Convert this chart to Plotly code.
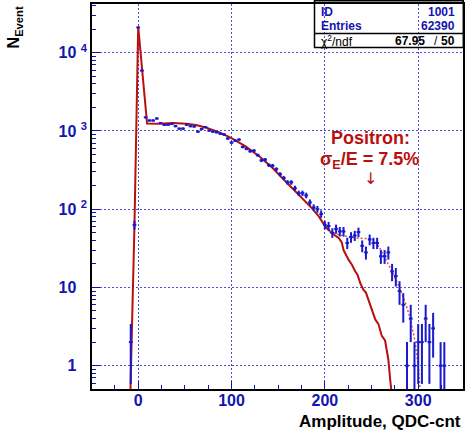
import numpy as np
import plotly.graph_objects as go

# ---------------- data ----------------
bin_width = 4
bin_index = [-2, -1, 0, 1, 2, 3, 4, 5, 6, 7, 8, 9, 10, 11, 12, 13, 14, 15, 16, 17, 18, 19,
             20, 21, 22, 23, 24, 25, 26, 27, 28, 29, 30, 31, 32, 33, 34, 35, 36, 37, 38, 39,
             40, 41, 42, 43, 44, 45, 46, 47, 48, 49, 50, 51, 52, 53, 54, 55, 56, 57, 58, 59,
             60, 61, 62, 63, 64, 65, 66, 67, 68, 69, 70, 71, 72, 73, 74, 75, 76, 77, 78, 79,
             81, 82]
counts = [2, 63, 21000, 5900, 1490, 1360, 1360, 1440, 1260, 1190, 1200, 1230, 1150, 1070, 1070,
          1200, 1150, 1140, 980, 1060, 1120, 1010, 980, 960, 920, 900, 800, 710, 750, 775,
          624, 590, 550, 560, 490, 420, 430, 365, 360, 325, 280, 250, 220, 220, 185, 160, 160,
          150, 122, 105, 100, 87, 63, 61, 50, 56, 52, 52, 37, 44, 46, 51, 34, 28, 41, 37, 37,
          25, 25, 28, 16, 14, 9, 6, 1, 4, 1, 2, 2, 4, 2, 3, 1, 1]

fit_x = [-8.5, -4, 0, 4, 9.5, 23, 37, 51.5, 62, 73, 87, 100, 115, 130, 144, 158, 172, 186,
         193.5, 200.5, 207.7, 214.8, 218, 220, 225.5, 229, 232.6, 235, 238, 241.4, 244,
         246.7, 250.3, 254, 257.4, 261, 264.5, 266.5, 268, 270, 272]
fit_y = [0.4, 63, 21500, 6000, 1240, 1236, 1262, 1236, 1188, 1098, 957, 811, 634, 472, 336,
         226, 153, 103, 81, 60, 49, 43, 38, 30, 22.5, 19.5, 16, 14.5, 11.3, 9.3, 8.6,
         6.9, 5.4, 3.9, 3.4, 2.4, 2.1, 1.6, 1.2, 0.66, 0.4]

tail_x = [205, 215, 227, 237, 247, 254, 260, 266, 272, 279, 286, 291, 296.5, 300, 302]
tail_y = [52, 47, 44, 42.5, 42, 40, 30, 22, 16, 10.5, 6.5, 4.2, 2.1, 1.0, 0.5]

ytick_vals = [1, 10, 100, 1000, 10000]
ytick_text = ["1 <sup><span style='color:rgba(0,0,0,0)'>0</span></sup>",
              "10 <sup><span style='color:rgba(0,0,0,0)'>0</span></sup>",
              "10 <sup>2</sup>", "10 <sup>3</sup>", "10 <sup>4</sup>"]
xtick_vals = [0, 100, 200, 300]

stats_id = "1001"
stats_entries = "62390"
stats_chi2 = "67.95"
stats_ndf = "50"

# ---------------- figure ----------------
BLUE = "rgb(20,20,175)"
PBLUE = "rgb(25,25,205)"
RED = "rgb(185,15,15)"
GRID = "rgba(60,60,210,0.9)"
FONT = "Liberation Sans, Arial, sans-serif"

x = np.array(bin_index) * bin_width
n = np.array(counts, dtype=float)
err = np.sqrt(n)
lower = n - np.maximum(n - err, 0.3)

fig = go.Figure()
fig.add_trace(go.Scatter(
    x=fit_x, y=fit_y, mode="lines",
    line=dict(color=RED, width=2), hoverinfo="skip", showlegend=False))
fig.add_trace(go.Scatter(
    x=tail_x, y=tail_y, mode="lines",
    line=dict(color="rgb(220,80,80)", width=1.5, dash="2px,2px"), showlegend=False))
fig.add_trace(go.Scatter(
    x=x, y=n, mode="markers",
    marker=dict(size=2, color=PBLUE),
    error_y=dict(type="data", symmetric=False, array=err, arrayminus=lower,
                 color=PBLUE, thickness=2, width=0),
    error_x=dict(type="constant", value=bin_width / 2, color=PBLUE, thickness=2, width=0),
    showlegend=False))

L, R, T, B = 92, 2, 4, 46
W, H = 467, 435
pw, ph = W - L - R, H - T - B


def px(xp):
    return (xp - L) / pw


def py(yp):
    return (H - B - yp) / ph


fig.update_layout(
    width=W, height=H,
    margin=dict(l=L, r=R, t=T, b=B),
    paper_bgcolor="white", plot_bgcolor="white",
    font=dict(family=FONT),
    xaxis=dict(
        range=[-49.5, 348], tickvals=xtick_vals,
        ticks="inside", ticklen=8, tickcolor=BLUE, tickwidth=1,
        tickfont=dict(family=FONT, size=16, color=BLUE, weight="bold"),
        ticklabelstandoff=-4,
        showgrid=True, gridcolor=GRID, griddash="2px,2px", gridwidth=1,
        showline=True, linecolor="black", linewidth=1.5, mirror=True,
        zeroline=False,
        minor=dict(dtick=25, tick0=0, ticks="inside", ticklen=4, tickcolor=BLUE, showgrid=False),
    ),
    yaxis=dict(
        type="log", range=[-0.298, 4.622],
        tickvals=ytick_vals, ticktext=ytick_text,
        ticks="inside", ticklen=8, tickcolor=BLUE, tickwidth=1,
        tickfont=dict(family=FONT, size=16, color=BLUE, weight="bold"),
        showgrid=True, gridcolor=GRID, griddash="2px,2px", gridwidth=1,
        showline=True, linecolor="black", linewidth=1.5, mirror=True,
        zeroline=False,
        minor=dict(dtick="D1", ticks="inside", ticklen=4, tickcolor=BLUE, showgrid=False),
    ),
)

# axis titles
fig.add_annotation(xref="paper", yref="paper", x=px(14), y=py(4), xanchor="center", yanchor="top",
                   text="<b>N<sub>Event</sub></b>", textangle=-90, showarrow=False,
                   font=dict(family=FONT, size=16, color="black"))
fig.add_annotation(xref="paper", yref="paper", x=px(465), y=py(422), xanchor="right", yanchor="middle",
                   text="<b>Amplitude, QDC-cnt</b>", showarrow=False,
                   font=dict(family=FONT, size=17, color="black"))

# positron label
fig.add_annotation(xref="paper", yref="paper", x=px(372), y=py(138), xanchor="center", yanchor="middle",
                   text="<b>Positron:</b>", showarrow=False, font=dict(family=FONT, size=18, color=RED))
fig.add_annotation(xref="paper", yref="paper", x=px(371), y=py(160), xanchor="center", yanchor="middle",
                   text="<b>σ<sub>E</sub>/E = 7.5%</b>", showarrow=False, font=dict(family=FONT, size=18, color=RED))
fig.add_annotation(xref="paper", yref="paper", x=px(372), y=py(178), xanchor="center", yanchor="middle",
                   text="↓", showarrow=False, font=dict(family="DejaVu Sans", size=16, color=RED))

# stats box
bx0, bx1 = px(315.7), px(465.3)
by0, bsep, by1 = py(47.5), py(33.5), py(0.7)
fig.add_shape(type="rect", xref="paper", yref="paper", x0=bx0, x1=bx1, y0=by0, y1=by1,
              line=dict(color="black", width=1.5), fillcolor="rgba(0,0,0,0)")
fig.add_shape(type="line", xref="paper", yref="paper", x0=bx0, x1=bx1, y0=bsep, y1=bsep,
              line=dict(color="black", width=1.5))
sfont = dict(family=FONT, size=12, color=BLUE)
fig.add_annotation(xref="paper", yref="paper", x=px(320), y=py(11.8), xanchor="left", yanchor="middle",
                   text="<b>ID</b>", showarrow=False, font=sfont)
fig.add_annotation(xref="paper", yref="paper", x=px(459), y=py(11.8), xanchor="right", yanchor="middle",
                   text=f"<b>{stats_id}</b>", showarrow=False, font=sfont)
fig.add_annotation(xref="paper", yref="paper", x=px(320), y=py(25.8), xanchor="left", yanchor="middle",
                   text="<b>Entries</b>", showarrow=False, font=sfont)
fig.add_annotation(xref="paper", yref="paper", x=px(459), y=py(25.8), xanchor="right", yanchor="middle",
                   text=f"<b>{stats_entries}</b>", showarrow=False, font=sfont)
kfont = dict(family=FONT, size=12, color="black")
fig.add_annotation(xref="paper", yref="paper", x=px(320), y=py(41), xanchor="left", yanchor="middle",
                   text="χ<sup>2</sup>/ndf", showarrow=False, font=kfont)
fig.add_annotation(xref="paper", yref="paper", x=px(429), y=py(41), xanchor="right", yanchor="middle",
                   text=f"<b>{stats_chi2}</b>", showarrow=False, font=dict(family=FONT, size=12, color="black"))
fig.add_annotation(xref="paper", yref="paper", x=px(438), y=py(41), xanchor="center", yanchor="middle",
                   text="/", showarrow=False, font=kfont)
fig.add_annotation(xref="paper", yref="paper", x=px(459), y=py(41), xanchor="right", yanchor="middle",
                   text=f"<b>{stats_ndf}</b>", showarrow=False, font=dict(family=FONT, size=12, color="black"))

fig.write_html("out.html")
